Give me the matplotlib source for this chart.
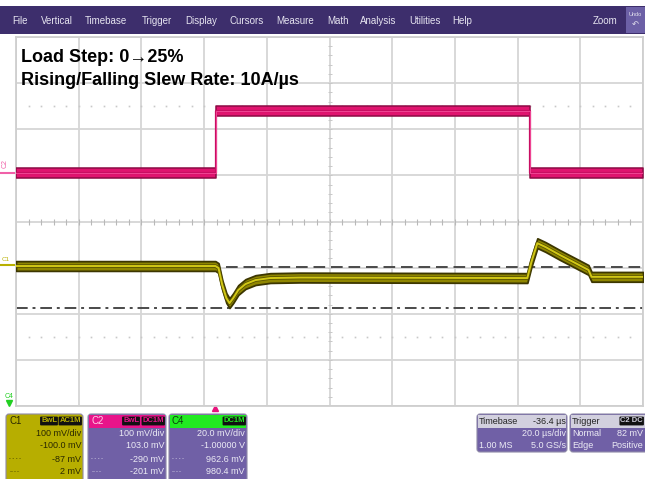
import matplotlib
matplotlib.use('Agg')
import matplotlib.pyplot as plt
import matplotlib.transforms as mtrans
from matplotlib.patches import Rectangle, FancyBboxPatch
import numpy as np

plt.rcParams['font.family'] = ['Liberation Sans', 'DejaVu Sans']

# timebase: 20 us/div, delay -36.4 us, 10 divisioni
t_div = 20.0
t_delay = -36.4
t_center = -t_delay
t_left = t_center - 5 * t_div
t_right = t_center + 5 * t_div

# C1 (uscita, AC) in mV
c1_scale = 100.0
c1_offset = -100.0
c1_t = [-63.6, 0.0, 1.0, 2.2, 3.5, 4.5, 5.7, 7.3, 9.6, 12.8, 17.5, 27.0,
        99.5, 100.8, 102.7, 105.3, 110.0, 114.8, 119.0, 120.0, 136.4]
c1_mv = [3.5, 3.5, -0.9, -37.7, -66.0, -77.0, -66.0, -48.6, -35.6, -27.0, -22.6, -21.5,
         -22.6, 12.0, 53.0, 44.7, 27.0, 10.0, -5.0, -20.0, -20.0]

# C2 (corrente di carico) in mV
c2_scale = 100.0
c2_offset = 103.0
c2_t = [-63.6, 0.3, 0.3, 100.2, 100.2, 136.4]
c2_mv = [2.2, 2.2, 136.7, 136.7, 2.2, 2.2]

# cursori su C1
cur_a = -87.0
cur_b = 2.0

menu = ['File', 'Vertical', 'Timebase', 'Trigger', 'Display', 'Cursors',
        'Measure', 'Math', 'Analysis', 'Utilities', 'Help']
menu_x = [12, 41, 85, 142, 185, 229, 276, 327, 360, 409, 452]

W, H = 645, 479
fig = plt.figure(figsize=(W / 100, H / 100), dpi=100)
fig.patch.set_facecolor('white')

# assi "pixel" per l'interfaccia dello scope
ov = fig.add_axes([0, 0, 1, 1], zorder=0)
ov.set_xlim(0, W)
ov.set_ylim(H, 0)
ov.axis('off')

# assi principali (griglia 10 x 8 divisioni)
gl, gr, gt, gb = 16, 643, 37, 406
ax = fig.add_axes([gl / W, (H - gb) / H, (gr - gl) / W, (gb - gt) / H], zorder=1)
ax.set_xlim(t_left, t_right)
ax.set_ylim(-4, 4)
ax.set_facecolor('white')

gcol = '#d6d6d6'
ax.set_xticks(t_left + t_div * np.arange(11))
ax.set_yticks(np.arange(-4, 5))
ax.grid(True, color=gcol, lw=1.3)
ax.tick_params(length=0, labelbottom=False, labelleft=False)
for s in ax.spines.values():
    s.set_color('#cfcfcf')
    s.set_linewidth(1.3)

# tacche sulle linee centrali e righe punteggiate
xs = t_left + t_div / 5 * np.arange(1, 50)
ys = -4 + 0.2 * np.arange(1, 40)
ax.plot(xs, np.zeros_like(xs), ls='none', marker='|', ms=4, color='#b8b8b8', mew=0.8)
ax.plot(np.full_like(ys, t_center), ys, ls='none', marker='_', ms=3, color='#c8c8c8', mew=0.7)
for yy in (2.5, -2.5):
    ax.plot(xs, np.full_like(xs, yy), ls='none', marker='s', ms=1.2, color='#c8c8c8', mew=0)

# cursori
ax.axhline((cur_b + c1_offset) / c1_scale, color='#4a4a4a', lw=1.4, ls=(0, (6, 3)), zorder=2)
ax.axhline((cur_a + c1_offset) / c1_scale, color='#4a4a4a', lw=1.4, ls=(0, (6, 2.5, 1.5, 2.5)), zorder=2)

# tracce
band = 0.105
c1_pos = (np.array(c1_mv) + c1_offset) / c1_scale
c2_pos = (np.array(c2_mv) + c2_offset) / c2_scale

ax.fill_between(c2_t, c2_pos - band, c2_pos + band, fc='#e0146f', ec='#8c0a44', lw=1.1, zorder=3)
ax.plot(c2_t, c2_pos, color='#c80e62', lw=1.6, zorder=4)
ax.plot(c2_t, c2_pos, color='#f04494', lw=0.7, zorder=4)

ax.fill_between(c1_t, c1_pos - band, c1_pos + band, fc='#8f8600', ec='#3c3600', lw=1.3, zorder=3)
ax.plot(c1_t, c1_pos, color='#5a5300', lw=2.6, zorder=4)
ax.plot(c1_t, c1_pos, color='#d2c815', lw=1.4, zorder=4)

# marcatori di livello dei canali a sinistra
bl = mtrans.blended_transform_factory(ax.transAxes, ax.transData)
ax.plot([-0.025, 0], [c2_pos[0], c2_pos[0]], color='#f060a8', lw=1.5, transform=bl, clip_on=False)
ax.text(-0.017, c2_pos[0] + 0.2, 'C2', transform=bl, rotation=90, fontsize=5,
        color='#f060a8', ha='center', va='center', clip_on=False)
ax.plot([-0.025, 0], [c1_pos[0] + 0.02, c1_pos[0] + 0.02], color='#b8b000', lw=1.5, transform=bl, clip_on=False)
ax.text(-0.017, c1_pos[0] + 0.15, 'C1', transform=bl, fontsize=4.5,
        color='#b8b000', ha='center', va='center', clip_on=False)

# marcatore trigger
bt = mtrans.blended_transform_factory(ax.transData, ax.transAxes)
ax.plot([0], [-0.006], marker='^', ms=5, color='#e8127c', transform=bt, clip_on=False)

# testo
ax.text(21, 62, 'Load Step: 0\u219225%', transform=ov.transData, fontsize=13,
        fontweight='bold', va='baseline', ha='left', zorder=6)
ax.text(21, 85, 'Rising/Falling Slew Rate: 10A/\u00b5s', transform=ov.transData, fontsize=13,
        fontweight='bold', va='baseline', ha='left', zorder=6)

# barra menu
ov.add_patch(Rectangle((0, 6), W, 28, fc='#3d2e6c', ec='none'))
for m, x in zip(menu, menu_x):
    ov.text(x, 20.5, m, fontsize=7, color='#e6e4f0', va='center', ha='left')
ov.text(593, 20.5, 'Zoom', fontsize=7, color='#e6e4f0', va='center', ha='left')
ov.add_patch(Rectangle((626, 7), 20, 26, fc='#6c60a6', ec='none'))
ov.text(635, 14, 'Undo', fontsize=4, color='#e6e4f0', va='center', ha='center')
ov.text(635, 25, '\u21b6', fontsize=6, color='#e6e4f0', va='center', ha='center')

# marcatore C4 (fuori schermo, in basso)
ov.text(9, 397, 'C4', fontsize=5, color='#22d022', ha='center', va='center')
ov.plot([9], [403], marker='v', ms=4, color='#22d022')

body = '#7060a6'
txtc = '#ecebf5'


def panel(x, y, w, h, fc, hc=None):
    ov.add_patch(FancyBboxPatch((x, y), w, h, boxstyle='round,pad=0,rounding_size=3',
                                fc=fc, ec='#8f8aa8', lw=0.8))
    if hc is not None:
        ov.add_patch(Rectangle((x + 1, y + 1), w - 2, 13, fc=hc, ec='none'))


def badge(x, y, s, col):
    ov.text(x, y, s, fontsize=5.5, color=col, ha='right', va='center', fontweight='bold',
            bbox=dict(boxstyle='round,pad=0.12', fc='#111111', ec='none'))


rows = [434, 446, 459, 471]

# C1
panel(6, 414, 77, 70, '#b7ae00')
ov.text(9, 421, 'C1', fontsize=7, color='#2a2800', va='center')
badge(81, 421, 'AC1M', '#b7ae00')
badge(57, 421, 'BwL', '#b7ae00')
for yy, s in zip(rows, ['100 mV/div', '-100.0 mV', '-87 mV', '2 mV']):
    ov.text(81, yy, s, fontsize=6.5, color='#2a2800', ha='right', va='center')
ov.text(9, 459, '- - - -', fontsize=4, color='#2a2800', va='center')
ov.text(9, 471, '.......', fontsize=4, color='#2a2800', va='center')

# C2
panel(88, 414, 78, 70, body, '#e8148a')
ov.text(91, 421, 'C2', fontsize=7, color='#ffd0e8', va='center')
badge(164, 421, 'DC1M', '#e8148a')
badge(139, 421, 'BwL', '#e8148a')
for yy, s in zip(rows, ['100 mV/div', '103.0 mV', '-290 mV', '-201 mV']):
    ov.text(164, yy, s, fontsize=6.5, color=txtc, ha='right', va='center')
ov.text(91, 459, '- - - -', fontsize=4, color=txtc, va='center')
ov.text(91, 471, '.......', fontsize=4, color=txtc, va='center')

# C4
panel(169, 414, 78, 70, body, '#22ea22')
ov.text(172, 421, 'C4', fontsize=7, color='#0c3a0c', va='center')
badge(245, 421, 'DC1M', '#22ea22')
for yy, s in zip(rows, ['20.0 mV/div', '-1.00000 V', '962.6 mV', '980.4 mV']):
    ov.text(245, yy, s, fontsize=6.5, color=txtc, ha='right', va='center')
ov.text(172, 459, '- - - -', fontsize=4, color=txtc, va='center')
ov.text(172, 471, '.......', fontsize=4, color=txtc, va='center')

# Timebase
panel(477, 414, 90, 38, body, '#d2d0de')
ov.text(479, 421, 'Timebase', fontsize=6.5, color='#222222', va='center')
ov.text(566, 421, '-36.4 \u00b5s', fontsize=6.5, color='#222222', va='center', ha='right')
ov.text(566, 434, '20.0 \u00b5s/div', fontsize=6.5, color=txtc, va='center', ha='right')
ov.text(479, 446, '1.00 MS', fontsize=6.5, color=txtc, va='center')
ov.text(566, 446, '5.0 GS/s', fontsize=6.5, color=txtc, va='center', ha='right')

# Trigger
panel(570, 414, 80, 38, body, '#d2d0de')
ov.text(572, 421, 'Trigger', fontsize=6.5, color='#222222', va='center')
badge(643, 421, 'C2 DC', '#d2d0de')
ov.text(643, 434, '82 mV', fontsize=6.5, color=txtc, va='center', ha='right')
ov.text(572, 434, 'Normal', fontsize=6.5, color=txtc, va='center')
ov.text(572, 446, 'Edge', fontsize=6.5, color=txtc, va='center')
ov.text(643, 446, 'Positive', fontsize=6.5, color=txtc, va='center', ha='right')

fig.savefig('out.png', dpi=100)
